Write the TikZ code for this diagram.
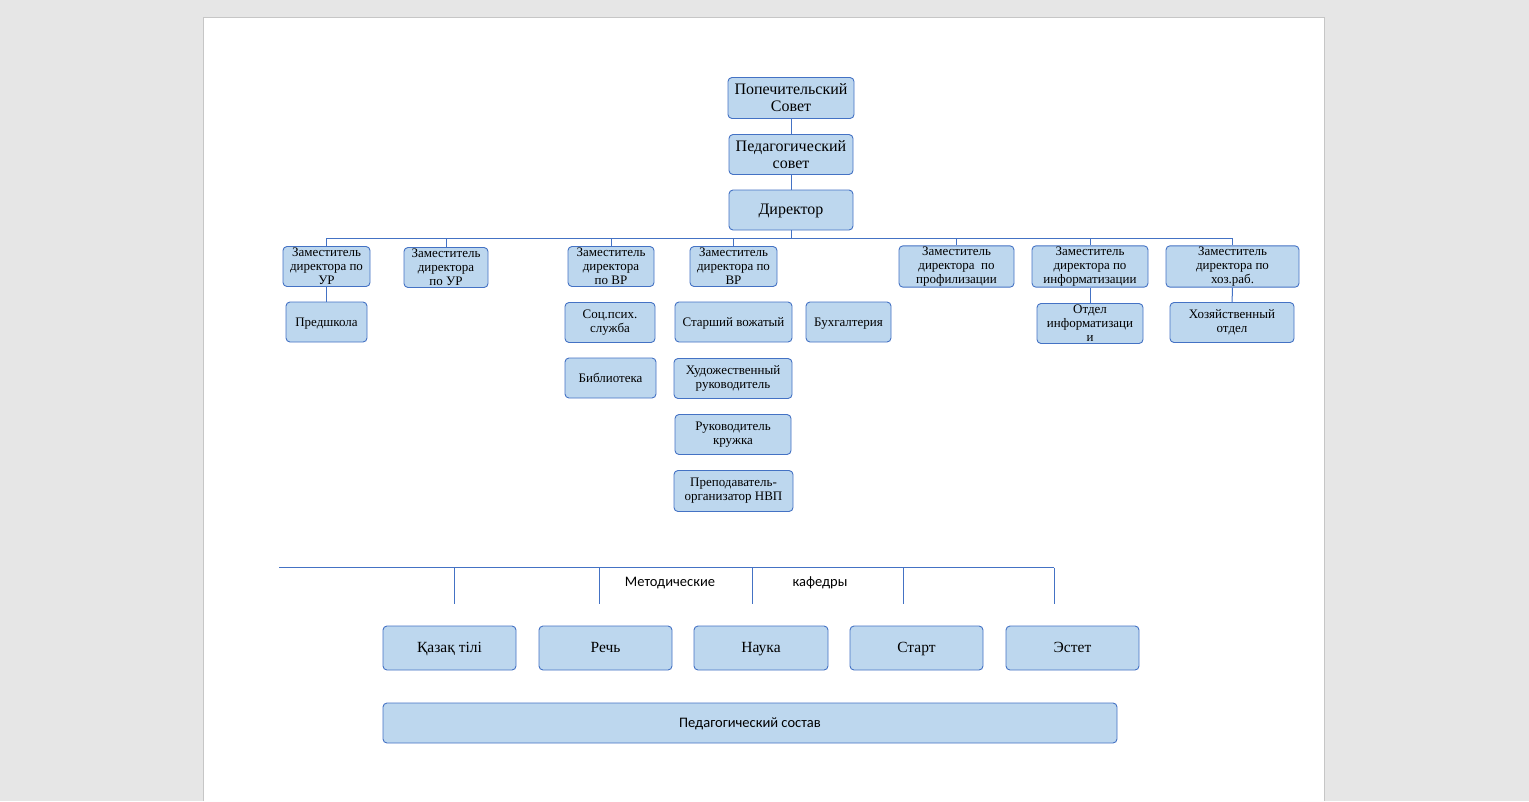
\documentclass[tikz,border=0pt]{standalone}
\usepackage{fontspec}
\setmainfont{Liberation Serif}
\newfontfamily\calib{Carlito}
\definecolor{boxfill}{HTML}{BDD7EE}
\definecolor{boxline}{HTML}{4472C4}
\definecolor{pagegray}{HTML}{E6E6E6}
\definecolor{pageedge}{HTML}{C6C6C6}
\tikzset{
  unit/.style={draw=boxline, fill=boxfill, rounded corners=4, align=center, inner sep=1pt, line width=0.9pt,
    font=\fontsize{13}{14}\selectfont, minimum height=40},
  oneline/.style={text height=0.9em, text depth=0pt},
  bigunit/.style={unit, font=\fontsize{16}{17}\selectfont},
  kafunit/.style={unit, oneline, font=\fontsize{15.5}{17}\selectfont, minimum height=44, minimum width=133},
  link/.style={draw=boxline, line width=1pt},
  sanslabel/.style={font=\calib\fontsize{14.5}{16}\selectfont, inner sep=0pt}
}
\begin{document}
\begin{tikzpicture}[x=1pt,y=-1pt]
  \useasboundingbox (0,0) rectangle (1529,801);
  \fill[pagegray] (0,0) rectangle (1529,801);
  \fill[white] (203.5,17.5) rectangle (1324.5,801);
  \draw[pageedge] (203.5,801) -- (203.5,17.5) -- (1324.5,17.5) -- (1324.5,801);

  \node[bigunit, minimum width=126, minimum height=41] (pop) at (791,98) {Попечительский\\Совет};
  \node[bigunit, minimum width=124] (ped) at (791,154.5) {Педагогический\\совет};
  \node[bigunit, oneline, minimum width=124] (dir) at (791,210) {Директор};
  \coordinate (bus) at (791,238);

  \node[unit, minimum width=87]  (dep1) at (326.5,266.5) {Заместитель\\директора по\\УР};
  \node[unit, minimum width=84]  (dep2) at (446,267.5)   {Заместитель\\директора\\по УР};
  \node[unit, minimum width=86]  (dep3) at (611,266.5)   {Заместитель\\директора\\по ВР};
  \node[unit, minimum width=87]  (dep4) at (733.5,266.5) {Заместитель\\директора по\\ВР};
  \node[unit, minimum width=115] (dep5) at (956.5,266.5) {Заместитель\\директора\ \ по\\профилизации};
  \node[unit, minimum width=116] (dep6) at (1090,266.5)  {Заместитель\\директора по\\информатизации};
  \node[unit, minimum width=133] (dep7) at (1232.5,266.5) {Заместитель\\директора по\\хоз.раб.};

  \node[unit, oneline, minimum width=81]  (pre)  at (326.5,322) {Предшкола};
  \node[unit, minimum width=90]  (soc)  at (610,322.5)   {Соц.псих.\\служба};
  \node[unit, oneline, minimum width=117] (star) at (733.5,322) {Старший вожатый};
  \node[unit, oneline, minimum width=85]  (buh)  at (848.5,322) {Бухгалтерия};
  \node[unit, minimum width=106] (otd)  at (1090,323.5)  {Отдел\\информатизаци\\и};
  \node[unit, minimum width=124] (hoz)  at (1232,322.5)  {Хозяйственный\\отдел};
  \node[unit, oneline, minimum width=91]  (bib)  at (610.5,378) {Библиотека};
  \node[unit, minimum width=118] (hud)  at (733,378.5)   {Художественный\\руководитель};
  \node[unit, minimum width=116] (ruk)  at (733,434.5)   {Руководитель\\кружка};
  \node[unit, minimum width=119, minimum height=41] (prep) at (733.5,491) {Преподаватель-\\организатор НВП};

  \draw[link] (pop) -- (ped);
  \draw[link] (ped) -- (dir);
  \draw[link] (dir) -- (bus);
  \foreach \d in {dep1,dep2,dep3,dep4,dep5,dep6,dep7}
    \draw[link] (bus) -| (\d.north);
  \draw[link] (dep1) -- (pre);
  \draw[link] (dep6) -- (otd);
  \draw[link] (dep7) -- (hoz);

  \coordinate (mleft) at (279,567.5);
  \coordinate (mright) at (1054,567.5);
  \draw[link] (mleft) -- (mright);
  \foreach \x [count=\i] in {454,599,752,903,1054} {
    \coordinate (mt\i) at (\x,567.5);
    \coordinate (mb\i) at (\x,604);
    \draw[link] (mt\i) -- (mb\i);
  }
  \node[sanslabel] (met) at (670,583) {Методические};
  \node[sanslabel] (kaf) at (820,583) {кафедры};

  \node[kafunit] (kaz)   at (449.5,648) {Қазақ тілі};
  \node[kafunit] (rech)  at (605.5,648) {Речь};
  \node[kafunit, minimum width=134] (nauka) at (761,648) {Наука};
  \node[kafunit] (start) at (916.5,648) {Старт};
  \node[kafunit] (estet) at (1072.5,648) {Эстет};

  \node[unit, oneline, minimum width=734, font=\calib\fontsize{14.5}{16}\selectfont] (sostav) at (750,723) {Педагогический состав};
\end{tikzpicture}
\end{document}
